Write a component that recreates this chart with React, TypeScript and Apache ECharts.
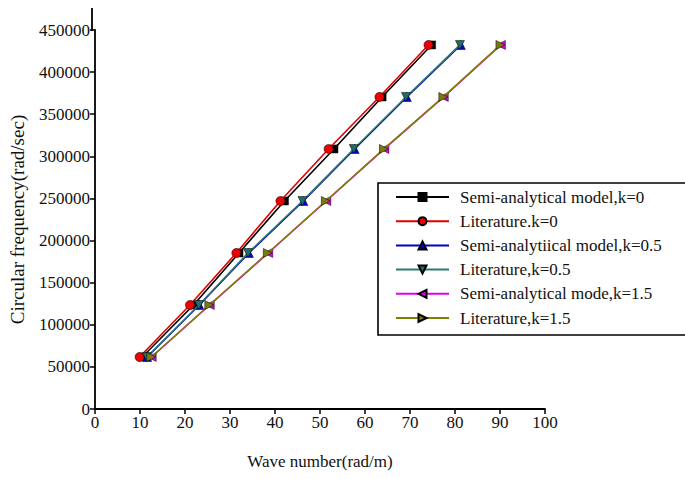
import React, { useEffect, useRef } from "react";
import * as echarts from "echarts";

const omega = [61750, 123500, 185250, 247000, 308750, 370500, 432250];
const semiK0 = [10.5, 21.9, 32.0, 42.1, 53.1, 63.8, 74.8];
const litK0 = [9.9, 21.1, 31.4, 41.2, 51.9, 63.2, 74.1];
const semiK05 = [11.6, 23.2, 34.2, 46.3, 57.7, 69.3, 81.3];
const litK05 = [11.5, 23.1, 34.0, 46.1, 57.5, 69.1, 81.1];
const semiK15 = [12.6, 25.5, 38.5, 51.4, 64.3, 77.5, 90.2];
const litK15 = [12.5, 25.4, 38.4, 51.3, 64.2, 77.4, 90.1];

const seriesNames = [
  "Semi-analytical model,k=0",
  "Literature.k=0",
  "Semi-analytiical model,k=0.5",
  "Literature,k=0.5",
  "Semi-analytical mode,k=1.5",
  "Literature,k=1.5",
];

const FONT = "Liberation Serif";

export default function App() {
  const ref = useRef<HTMLDivElement>(null);
  useEffect(() => {
    if (!ref.current) return;
    const chart = echarts.init(ref.current, undefined, { renderer: "svg" });
    const defs: Array<{ x: number[]; color: string; fill: string; symbol: string; size: number; rotate?: number }> = [
      { x: semiK0, color: "#000000", fill: "#000000", symbol: "rect", size: 8 },
      { x: litK0, color: "#e00000", fill: "#ee0000", symbol: "circle", size: 9 },
      { x: semiK05, color: "#0000cc", fill: "#0000cc", symbol: "triangle", size: 9 },
      { x: litK05, color: "#2a7a70", fill: "#1f6e66", symbol: "triangle", size: 9, rotate: 180 },
      { x: semiK15, color: "#e000e0", fill: "#e000e0", symbol: "triangle", size: 9, rotate: 90 },
      { x: litK15, color: "#808000", fill: "#7a7a10", symbol: "triangle", size: 9, rotate: -90 },
    ];
    const series = defs.map((d, i) => ({
      name: seriesNames[i],
      type: "line",
      data: d.x.map((v, j) => [v, omega[j]]),
      symbol: d.symbol,
      symbolSize: d.size,
      symbolRotate: d.rotate ?? 0,
      showAllSymbol: true,
      lineStyle: { color: d.color, width: 1.6 },
      itemStyle: { color: d.fill, borderColor: "#000", borderWidth: 0.5 },
      z: 2 + i,
    }));
    chart.setOption({
      animation: false,
      backgroundColor: "#ffffff",
      textStyle: { fontFamily: FONT },
      grid: { left: 92, right: 140, top: 30, bottom: 70 },
      xAxis: {
        type: "value",
        min: 0,
        max: 100,
        interval: 10,
        name: "Wave number(rad/m)",
        nameLocation: "middle",
        nameGap: 44,
        nameTextStyle: { fontFamily: FONT, fontSize: 17, color: "#111" },
        axisLine: { show: true, lineStyle: { color: "#000", width: 1.8 } },
        axisTick: { show: true, length: 5, lineStyle: { color: "#000", width: 1.5 } },
        axisLabel: { fontFamily: FONT, fontSize: 17, color: "#111", margin: 5 },
        splitLine: { show: false },
      },
      yAxis: {
        type: "value",
        min: 0,
        max: 450000,
        interval: 50000,
        name: "Circular frequency(rad/sec)",
        nameLocation: "middle",
        nameGap: 68,
        nameTextStyle: { fontFamily: FONT, fontSize: 19, color: "#111" },
        axisLine: { show: true, lineStyle: { color: "#000", width: 1.8 } },
        axisTick: { show: true, length: 5, lineStyle: { color: "#000", width: 1.5 } },
        axisLabel: {
          fontFamily: FONT,
          fontSize: 17,
          color: "#111",
          margin: 5,
          formatter: (v: number) => String(v),
        },
        splitLine: { show: false },
      },
      legend: {
        orient: "vertical",
        left: 395,
        top: 188,
        padding: 0,
        itemWidth: 53,
        itemHeight: 10,
        itemGap: 6.2,
        data: seriesNames,
        textStyle: {
          fontFamily: FONT,
          fontSize: 17,
          lineHeight: 18,
          color: "#111",
          padding: [0, 0, 0, 6],
        },
      },
      graphic: [
        {
          type: "line",
          shape: { x1: 92, y1: 8, x2: 92, y2: 31 },
          style: { stroke: "#000", lineWidth: 1.8 },
        },
        {
          type: "rect",
          shape: { x: 378, y: 183, width: 330, height: 152 },
          style: { fill: "none", stroke: "#000", lineWidth: 1.6 },
        },
      ],
      series,
    });
    return () => chart.dispose();
  }, []);
  return (
    <div
      ref={ref}
      style={{ position: "fixed", left: 0, top: 0, width: 685, height: 479 }}
    />
  );
}
